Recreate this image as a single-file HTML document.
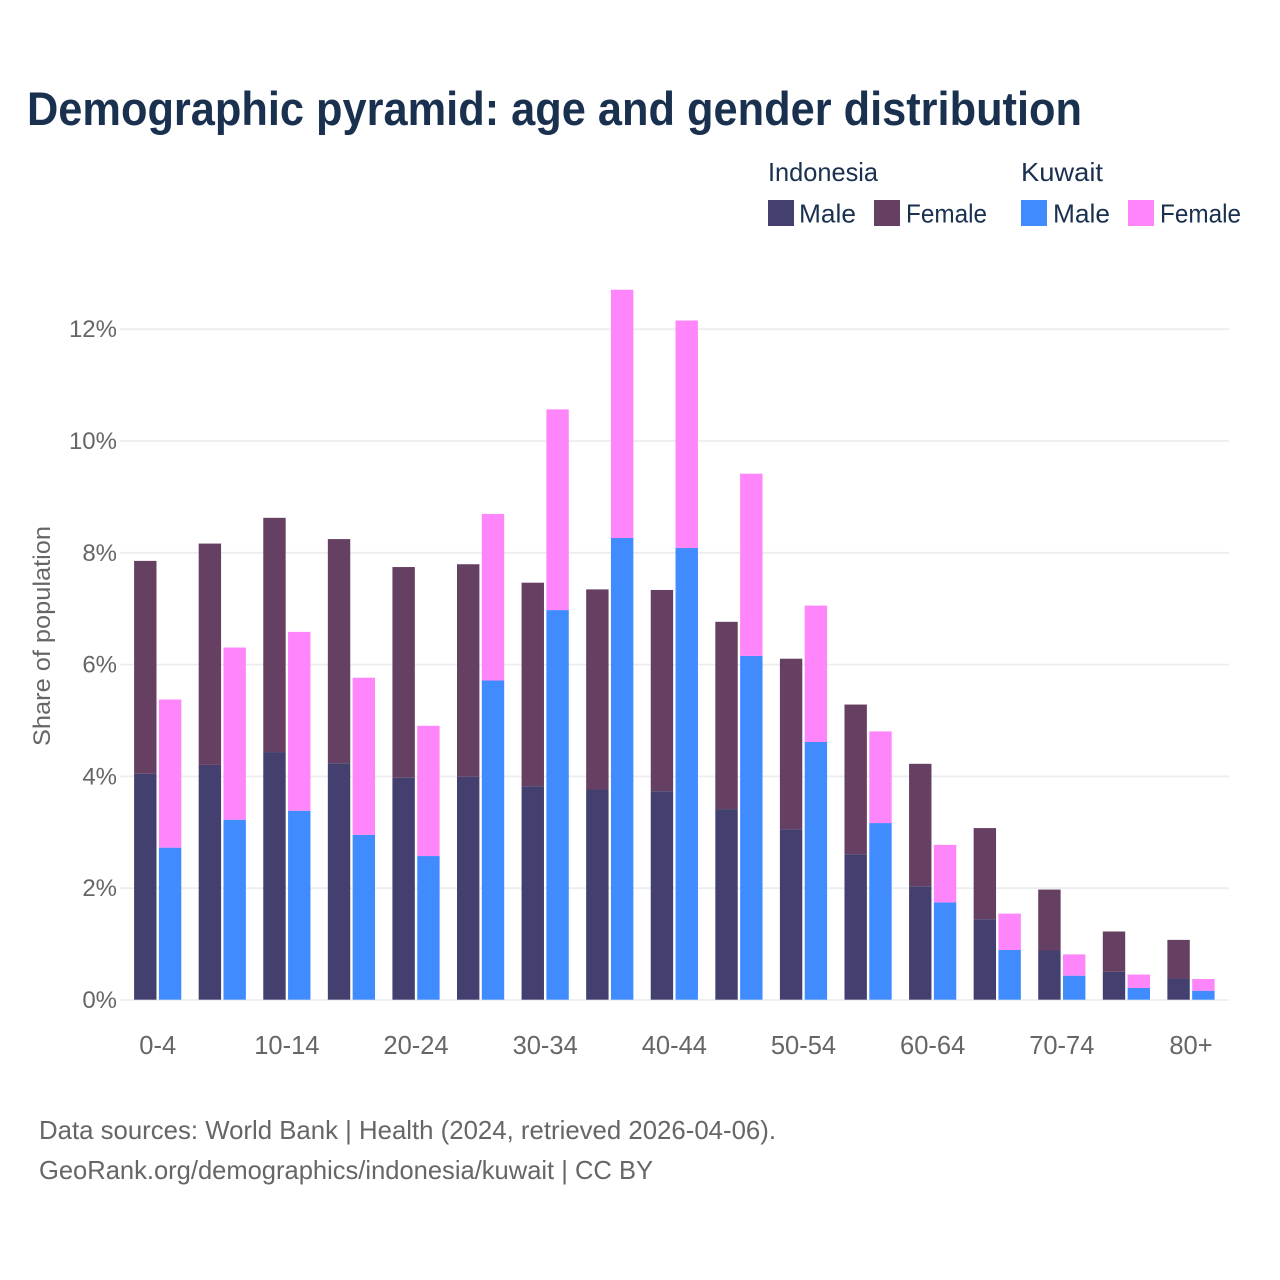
<!DOCTYPE html>
<html>
<head>
<meta charset="utf-8">
<style>
html,body{margin:0;padding:0;background:#fff;}
svg{display:block;font-family:"Liberation Sans",sans-serif;}
</style>
</head>
<body>
<svg id="chart" width="1280" height="1280" viewBox="0 0 1280 1280" xmlns="http://www.w3.org/2000/svg">
  <rect width="1280" height="1280" fill="#ffffff"/>
  <text x="27" y="125" font-size="47" font-weight="700" fill="#19304f" textLength="1055" lengthAdjust="spacingAndGlyphs">Demographic pyramid: age and gender distribution</text>
  <g font-size="26" fill="#19304f">
    <text x="768" y="181" textLength="110" lengthAdjust="spacingAndGlyphs">Indonesia</text>
    <text x="1021" y="181" textLength="82" lengthAdjust="spacingAndGlyphs">Kuwait</text>
    <rect x="768" y="200" width="26" height="26" fill="#434070"/>
    <text x="799" y="222.5" textLength="57" lengthAdjust="spacingAndGlyphs">Male</text>
    <rect x="874" y="200" width="26" height="26" fill="#664063"/>
    <text x="906" y="222.5" textLength="81" lengthAdjust="spacingAndGlyphs">Female</text>
    <rect x="1021" y="200" width="26" height="26" fill="#408cff"/>
    <text x="1053" y="222.5" textLength="57" lengthAdjust="spacingAndGlyphs">Male</text>
    <rect x="1128" y="200" width="26" height="26" fill="#ff85fa"/>
    <text x="1160" y="222.5" textLength="81" lengthAdjust="spacingAndGlyphs">Female</text>
  </g>
  <g id="grid"></g>
  <g id="bars"></g>
  <g id="yticks"></g>
  <g id="xticks"></g>
  <text transform="translate(50,636) rotate(-90)" text-anchor="middle" font-size="24.5" fill="#666666" textLength="220" lengthAdjust="spacingAndGlyphs">Share of population</text>
  <text x="39" y="1139" font-size="26" fill="#666666" textLength="737" lengthAdjust="spacingAndGlyphs">Data sources: World Bank | Health (2024, retrieved 2026-04-06).</text>
  <text x="39" y="1179" font-size="26" fill="#666666" textLength="614" lengthAdjust="spacingAndGlyphs">GeoRank.org/demographics/indonesia/kuwait | CC BY</text>
</svg>
<script>
const categories = ["0-4","5-9","10-14","15-19","20-24","25-29","30-34","35-39","40-44","45-49","50-54","55-59","60-64","65-69","70-74","75-79","80+"];
const tickedCategories = ["0-4","10-14","20-24","30-34","40-44","50-54","60-64","70-74","80+"];
const yTicks = [0,2,4,6,8,10,12];
const indonesiaMale = [4.04,4.20,4.43,4.23,3.97,3.99,3.82,3.76,3.73,3.41,3.05,2.60,2.03,1.44,0.88,0.50,0.38];
const indonesiaFemale = [3.81,3.96,4.19,4.01,3.77,3.80,3.64,3.58,3.60,3.35,3.05,2.68,2.19,1.63,1.09,0.72,0.69];
const kuwaitMale = [2.72,3.22,3.38,2.95,2.57,5.71,6.97,8.26,8.08,6.15,4.61,3.16,1.74,0.89,0.43,0.21,0.16];
const kuwaitFemale = [2.65,3.08,3.20,2.81,2.33,2.98,3.59,4.44,4.07,3.26,2.44,1.64,1.03,0.65,0.38,0.24,0.21];

const NS = "http://www.w3.org/2000/svg";
const y0 = 999.7, pxPerUnit = 55.9;
const firstCenter = 157.7, step = 64.58;
const barW = 22.4, gap = 2.4;
function yScale(v){ return y0 - v * pxPerUnit; }
function xCenter(i){ return firstCenter + i * step; }
function slug(s){ return s.replace(/\+/g,'-plus'); }

const gridG = document.getElementById('grid');
const yTickG = document.getElementById('yticks');
yTicks.forEach(t => {
  const l = document.createElementNS(NS,'line');
  
  
  l.setAttribute('x1', 120);
  l.setAttribute('x2', 1229);
  l.setAttribute('y1', yScale(t) + 0.3);
  l.setAttribute('y2', yScale(t) + 0.3);
  l.setAttribute('stroke', '#ecedef');
  l.setAttribute('stroke-width', 1.8);
  gridG.appendChild(l);
  const tx = document.createElementNS(NS,'text');
  
  
  tx.setAttribute('x', 117);
  tx.setAttribute('y', yScale(t) + 8.3);
  tx.setAttribute('text-anchor', 'end');
  tx.setAttribute('font-size', 24);
  tx.setAttribute('fill', '#666666');
  tx.textContent = t + '%';
  yTickG.appendChild(tx);
});

const barsG = document.getElementById('bars');
function drawBar(x, base, v, color, name){
  const r = document.createElementNS(NS,'rect');
  
  
  r.setAttribute('x', x);
  r.setAttribute('y', yScale(base + v));
  r.setAttribute('width', barW);
  r.setAttribute('height', v * pxPerUnit);
  r.setAttribute('fill', color);
  barsG.appendChild(r);
}
categories.forEach((c,i) => {
  const cx = xCenter(i);
  const xa = cx - gap/2 - barW;
  const xb = cx + gap/2;
  drawBar(xa, 0, indonesiaMale[i], '#434070', 'bar-indonesia-male-' + slug(c));
  drawBar(xa, indonesiaMale[i], indonesiaFemale[i], '#664063', 'bar-indonesia-female-' + slug(c));
  drawBar(xb, 0, kuwaitMale[i], '#408cff', 'bar-kuwait-male-' + slug(c));
  drawBar(xb, kuwaitMale[i], kuwaitFemale[i], '#ff85fa', 'bar-kuwait-female-' + slug(c));
});

const xTickG = document.getElementById('xticks');
tickedCategories.forEach(c => {
  const i = categories.indexOf(c);
  const tx = document.createElementNS(NS,'text');
  
  
  tx.setAttribute('x', xCenter(i));
  tx.setAttribute('y', 1054);
  tx.setAttribute('text-anchor', 'middle');
  tx.setAttribute('font-size', 25.5);
  tx.setAttribute('fill', '#666666');
  tx.textContent = c;
  xTickG.appendChild(tx);
});
</script>
</body>
</html>
